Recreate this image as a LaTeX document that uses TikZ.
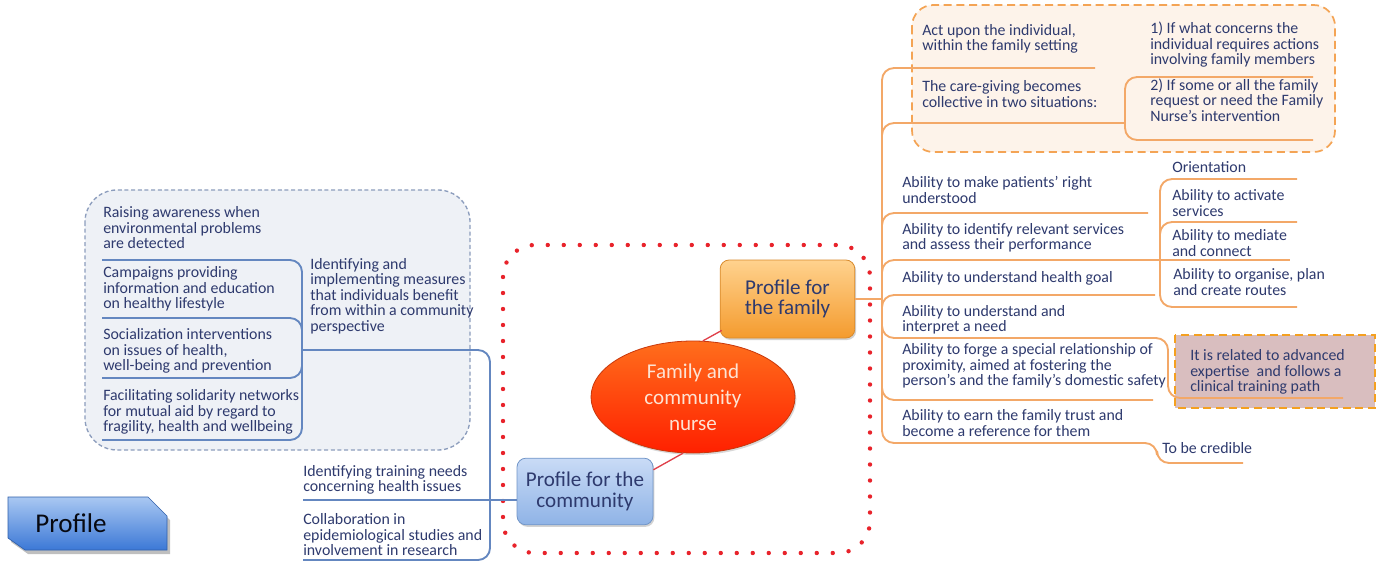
\documentclass[tikz,border=0pt]{standalone}
\usepackage{fontspec}
\setmainfont{Carlito}
\usetikzlibrary{shapes.geometric,shadows,calc}
\definecolor{navy}{HTML}{2E3A6E}
\definecolor{lorange}{HTML}{F3A868}
\definecolor{lblue}{HTML}{6487C0}
\definecolor{topfill}{HTML}{FDF3EA}
\definecolor{topdraw}{HTML}{F4A455}
\definecolor{leftfill}{HTML}{EEF1F6}
\definecolor{leftdraw}{HTML}{8C9DBD}
\definecolor{relfill}{HTML}{D9BEBF}
\definecolor{reldraw}{HTML}{F4A020}
\definecolor{dotred}{HTML}{E8232B}
\definecolor{famtop}{HTML}{FFD28E}
\definecolor{fambot}{HTML}{F49B2E}
\definecolor{famdraw}{HTML}{D98A2B}
\definecolor{comtop}{HTML}{C9DBF6}
\definecolor{combot}{HTML}{8FB3E6}
\definecolor{comdraw}{HTML}{7296C8}
\definecolor{elltop}{HTML}{FF6E1C}
\definecolor{ellbot}{HTML}{FF2000}
\definecolor{elldraw}{HTML}{C8380C}
\definecolor{elltext}{HTML}{FDE3D3}
\definecolor{tagtop}{HTML}{A9C8F2}
\definecolor{tagbot}{HTML}{3C78D6}
\definecolor{redline}{HTML}{E0404A}
\begin{document}
\begin{tikzpicture}[x=0.75pt,y=-0.75pt,
  txt/.style={anchor=west, inner sep=0pt, align=left, text=navy, font=\fontsize{11.9}{11.6}\selectfont},
  oline/.style={draw=lorange, line width=1.4pt, rounded corners=9pt},
  bline/.style={draw=lblue, line width=1.4pt, rounded corners=9pt},
  bigbox/.style={rounded corners=6.75pt, align=center, text=navy, line width=0.6pt,
     drop shadow={shadow xshift=1pt, shadow yshift=-1.5pt, opacity=0.35}},
]
\fill[white] (0,0) rectangle (1381,581);
\useasboundingbox (0,0) rectangle (1381,581);

% group boxes
\draw[fill=topfill, draw=topdraw, line width=1.3pt, dash pattern=on 6pt off 3.5pt, rounded corners=16pt] (912,5) rectangle (1335,152);
\draw[fill=leftfill, draw=leftdraw, line width=1pt, dash pattern=on 3pt off 2pt, rounded corners=24pt] (85,190) rectangle (470,450);
\draw[fill=relfill, draw=reldraw, line width=1.3pt, dash pattern=on 6pt off 3.5pt] (1175,335) rectangle (1375,408);
\draw[draw=dotred, line width=3.3pt, line cap=round, dash pattern=on 0pt off 12pt, rounded corners=24pt] (503,245) rectangle (870,553);

% main nodes
\node[ellipse, minimum width=153pt, minimum height=84pt, top color=elltop, bottom color=ellbot, draw=elldraw, line width=0.6pt,
  drop shadow={shadow xshift=1pt, shadow yshift=-1.5pt, opacity=0.3},
  text=elltext, align=center, font=\fontsize{15.8}{19.5}\selectfont] (ell) at (693,397) {Family and\\community\\nurse};
\node[bigbox, minimum width=101pt, minimum height=58.5pt, top color=famtop, bottom color=fambot, draw=famdraw,
  font=\fontsize{15.8}{15.5}\selectfont] (fam) at (787.5,299) {Profile for\\the family};
\node[bigbox, minimum width=102pt, minimum height=50pt, top color=comtop, bottom color=combot, draw=comdraw,
  font=\fontsize{15.8}{15.5}\selectfont] (com) at (585,491.5) {Profile for the\\community};

\draw[redline, line width=1pt] (ell.80) -- ($(fam.south west)+(2,-8)$);
\draw[redline, line width=1pt] (ell.260) -- ($(com.north east)+(0,12)$);

% profile tag
\fill[black, opacity=0.25] (11,501) -- (151,501) -- (170,520) -- (170,554) -- (28,554) -- (11,542) -- cycle;
\shade[top color=tagtop, bottom color=tagbot, draw=tagbot!80!black, line width=0.5pt] (8,497) -- (148,497) -- (167,516) -- (167,550) -- (25,550) -- (8,538) -- cycle;
\node[inner sep=0pt, text=black!85!navy, font=\fontsize{20.3}{22}\selectfont] (tag) at (71,523) {Profile};

% right trunk
\coordinate (rj) at (882,299);
\coordinate (cj) at (1125,123);
\coordinate (ij) at (1160,260);
\draw[oline] (fam.east) -- (rj);
\draw[oline] (rj) |- (1095,68);
\draw[oline] (rj) |- (cj);
\draw[oline] (cj) |- (1313,77);
\draw[oline] (cj) |- (1313,140);
\draw[oline] (rj) |- (1148,213);
\draw[oline] (rj) |- (ij);
\draw[oline] (ij) |- (1297,179);
\draw[oline] (ij) |- (1297,222);
\draw[oline] (ij) -- (1290,260);
\draw[oline] (ij) |- (1297,307);
\draw[oline] (rj) |- (1155,295);
\draw[oline] (rj) |- (1168,338) |- (1343,398);
\draw[oline] (rj) |- (1153,400);
\draw[oline] (rj) |- (1157,443) |- (1243,463);

% left trunk
\coordinate (lj) at (490,500);
\coordinate (mj) at (302,350);
\draw[bline] (com.west |- lj) -- (303,500);
\draw[bline] (lj) |- (mj);
\draw[bline] (lj) |- (303,560);
\draw[bline] (mj) |- (102,260);
\draw[bline] (mj) |- (102,318);
\draw[bline] (mj) |- (102,378);
\draw[bline] (mj) |- (102,440);

% left texts
\node[txt] (r1) at (103,228) {Raising awareness when\\environmental problems\\are detected};
\node[txt] (r2) at (103,289) {Campaigns providing\\information and education\\on healthy lifestyle};
\node[txt] (r3) at (103,351) {Socialization interventions\\on issues of health,\\well-being and prevention};
\node[txt] (r4) at (103,412) {Facilitating solidarity networks\\for mutual aid by regard to\\fragility, health and wellbeing};
\node[txt] (im) at (310,296) {Identifying and\\implementing measures\\that individuals benefit\\from within a community\\perspective};
\node[txt] (tr) at (303,480) {Identifying training needs\\concerning health issues};
\node[txt] (co) at (303,535) {Collaboration in\\epidemiological studies and\\involvement in research};

% right texts
\node[txt] (t1) at (922,39) {Act upon the individual,\\within the family setting};
\node[txt] (t2) at (922,94) {The care-giving becomes\\collective in two situations:};
\node[txt] (c1) at (1150,45) {1) If what concerns the\\individual requires actions\\involving family members};
\node[txt] (c2) at (1150,100) {2) If some or all the family\\request or need the Family\\Nurse’s intervention};
\node[txt] (a1) at (902,190) {Ability to make patients’ right\\understood};
\node[txt] (a2) at (902,238) {Ability to identify relevant services\\and assess their performance};
\node[txt] (o1) at (1172,167) {Orientation};
\node[txt] (o2) at (1172,203) {Ability to activate\\services};
\node[txt] (o3) at (1172,243) {Ability to mediate\\and connect};
\node[txt] (o4) at (1173,282) {Ability to organise, plan\\and create routes};
\node[txt] (a3) at (902,278) {Ability to understand health goal};
\node[txt] (a4) at (902,320) {Ability to understand and\\interpret a need};
\node[txt] (a5) at (902,366) {Ability to forge a special relationship of\\proximity, aimed at fostering the\\person’s and the family’s domestic safety};
\node[txt] (a6) at (902,423) {Ability to earn the family trust and\\become a reference for them};
\node[txt] (cr) at (1162,448) {To be credible};
\node[txt] (rel) at (1190,372) {It is related to advanced\\expertise\ \ and follows a\\clinical training path};
\end{tikzpicture}
\end{document}
